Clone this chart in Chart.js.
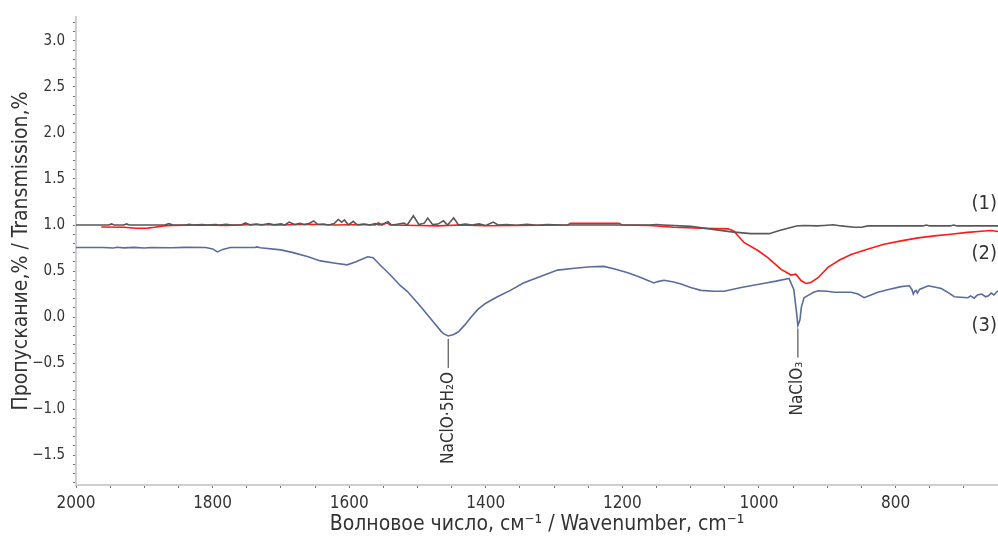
<!DOCTYPE html>
<html>
<head>
<meta charset="utf-8">
<script src="https://cdn.jsdelivr.net/npm/chart.js@4"></script>
<style>
    body { margin: 0; background: #fff; }
    #wrap { width: 998px; height: 538px; }
</style>
</head>
<body>
<div id="wrap"><canvas id="irChart"></canvas></div>
<script>
// --- Spectrum data ---
// (1) grey
const wn1 = [2000, 1960, 1952, 1948, 1944, 1930, 1926, 1922, 1870, 1864, 1858, 1840, 1834, 1828, 1815, 1808, 1796, 1790, 1780, 1772,
    1758, 1752, 1745, 1736, 1728, 1718, 1710, 1700, 1694, 1688, 1680, 1672, 1666, 1658, 1652, 1646, 1638, 1630, 1622, 1616,
    1611, 1607, 1601, 1594, 1588, 1578, 1570, 1562, 1556, 1548, 1543, 1538, 1530, 1520, 1515, 1506, 1498, 1490, 1485, 1478,
    1470, 1462, 1456, 1447, 1440, 1430, 1420, 1410, 1400, 1389, 1382, 1370, 1355, 1340, 1325, 1310, 1290, 1200, 1160, 1150,
    1140, 1100, 1070, 1040, 1012, 985, 970, 955, 945, 935, 915, 905, 891, 880, 860, 850, 840, 760, 755, 750,
    720, 715, 710, 650];
const t1 = [1.0, 1.0, 1.0, 1.012, 1.0, 1.0, 1.012, 1.0, 1.0, 1.015, 1.0, 1.0, 1.008, 1.0, 1.005, 1.0, 1.006, 1.0, 1.008, 1.0,
    1.0, 1.022, 1.0, 1.01, 1.0, 1.015, 1.002, 1.012, 1.0, 1.032, 1.005, 1.018, 1.003, 1.02, 1.045, 1.005, 1.01, 1.0, 1.015, 1.06,
    1.03, 1.055, 1.0, 1.04, 1.0, 1.01, 1.0, 1.015, 1.0, 1.02, 1.035, 1.0, 1.008, 1.02, 1.0, 1.1, 1.005, 1.02, 1.075, 1.005,
    1.01, 1.045, 1.0, 1.078, 1.0, 1.01, 1.0, 1.012, 0.995, 1.032, 1.0, 1.005, 0.998, 1.008, 0.998, 1.005, 1.0, 1.0, 1.0, 1.005,
    1.0, 0.985, 0.955, 0.925, 0.906, 0.906, 0.94, 0.97, 0.99, 0.995, 0.99, 0.995, 1.002, 0.99, 0.975, 0.975, 0.99, 0.99, 1.0, 0.99,
    0.99, 1.0, 0.99, 0.99];

// (2) red
const wn2 = [1963, 1930, 1912, 1895, 1885, 1872, 1860, 1840, 1820, 1780, 1740, 1700, 1660, 1620, 1580, 1562, 1557, 1552, 1545, 1540,
    1500, 1470, 1440, 1400, 1360, 1320, 1280, 1276, 1205, 1200, 1160, 1125, 1085, 1045, 1037, 1022, 1001, 987, 968, 953,
    946, 938, 931, 924, 913, 899, 882, 865, 840, 817, 790, 767, 740, 719, 695, 670, 660, 650];
const t2 = [0.978, 0.975, 0.965, 0.966, 0.975, 0.99, 0.995, 0.998, 1.0, 0.995, 1.005, 1.0, 1.008, 1.0, 1.005, 1.0, 1.022, 1.0, 1.025, 1.0,
    0.995, 0.99, 1.0, 0.992, 0.995, 0.998, 1.0, 1.018, 1.018, 1.0, 0.995, 0.975, 0.965, 0.958, 0.935, 0.81, 0.72, 0.646, 0.52, 0.456,
    0.465, 0.394, 0.365, 0.376, 0.43, 0.54, 0.62, 0.68, 0.74, 0.79, 0.83, 0.86, 0.885, 0.90, 0.92, 0.935, 0.94, 0.93];

// (3) blue
const wn3 = [2000, 1960, 1945, 1940, 1930, 1915, 1900, 1890, 1860, 1840, 1810, 1800, 1793, 1785, 1774, 1738, 1735, 1730, 1700, 1682,
    1660, 1642, 1620, 1603, 1590, 1573, 1565, 1554, 1540, 1525, 1515, 1496, 1477, 1466, 1462, 1455, 1447, 1440, 1430, 1422,
    1412, 1400, 1383, 1364, 1345, 1320, 1295, 1270, 1246, 1227, 1210, 1192, 1173, 1160, 1154, 1148, 1139, 1125, 1114, 1100,
    1085, 1065, 1051, 1026, 1012, 990, 975, 956, 949, 945, 943, 940, 938, 934, 928, 920, 913, 900, 890, 865,
    855, 846, 836, 826, 810, 792, 780, 776, 774, 772, 770, 768, 765, 752, 745, 733, 724, 714, 705, 694,
    690, 685, 680, 674, 668, 664, 660, 656, 650];
const t3 = [0.755, 0.755, 0.75, 0.758, 0.752, 0.757, 0.75, 0.755, 0.752, 0.757, 0.755, 0.74, 0.708, 0.735, 0.755, 0.755, 0.762, 0.752, 0.73, 0.70,
    0.655, 0.61, 0.585, 0.567, 0.60, 0.655, 0.645, 0.56, 0.46, 0.34, 0.28, 0.12, -0.05, -0.15, -0.18, -0.205, -0.19, -0.16, -0.08, -0.005,
    0.08, 0.15, 0.22, 0.29, 0.37, 0.44, 0.51, 0.53, 0.546, 0.55, 0.52, 0.48, 0.43, 0.39, 0.37, 0.385, 0.40, 0.38, 0.36, 0.32,
    0.29, 0.28, 0.28, 0.32, 0.34, 0.37, 0.39, 0.42, 0.30, 0.05, -0.093, -0.03, 0.105, 0.21, 0.235, 0.27, 0.286, 0.28, 0.27, 0.27,
    0.25, 0.21, 0.24, 0.27, 0.30, 0.33, 0.34, 0.30, 0.25, 0.28, 0.29, 0.26, 0.30, 0.34, 0.33, 0.31, 0.27, 0.22, 0.215, 0.21,
    0.23, 0.205, 0.24, 0.25, 0.22, 0.23, 0.26, 0.24, 0.286];

// Peak annotations
const peakWn = [1455, 943];
const peakT = [-0.205, -0.093];
const peakText = ['NaClO\u00b75H\u2082O', 'NaClO\u2083'];

// Curve numbers at the right edge
const curveLabels = ['(1)', '(2)', '(3)'];
const curveLabelT = [1.23, 0.69, -0.09];

// Axis ticks
const xTickValues = [];
for (let v = 650; v <= 2000; v += 50) xTickValues.push(v);
const yTickValues = [];
for (let i = -18; i <= 32; i++) yTickValues.push(i / 10);

const toPoints = (xs, ys) => xs.map((x, i) => ({ x: x, y: ys[i] }));

const textColor = '#333';
const mainFont = "'DejaVu Sans Condensed', 'DejaVu Sans', sans-serif";

// --- Annotations drawn through the scales ---
const labelPlugin = {
    id: 'irLabels',
    afterDatasetsDraw(chart) {
        const { ctx, scales: { x, y }, chartArea } = chart;
        // peak markers
        peakWn.forEach((w, i) => {
            const px = x.getPixelForValue(w);
            const py = y.getPixelForValue(peakT[i]) + 3;
            ctx.save();
            ctx.strokeStyle = '#333';
            ctx.lineWidth = 1;
            ctx.beginPath();
            ctx.moveTo(px, py);
            ctx.lineTo(px, py + 29);
            ctx.stroke();
            ctx.translate(px, py + 33);
            ctx.rotate(-Math.PI / 2);
            ctx.fillStyle = textColor;
            ctx.font = '17px ' + mainFont;
            ctx.textAlign = 'right';
            ctx.textBaseline = 'middle';
            ctx.fillText(peakText[i], 0, 0);
            ctx.restore();
        });
        // curve numbers
        ctx.save();
        ctx.font = '20px ' + mainFont;
        ctx.fillStyle = textColor;
        ctx.textAlign = 'right';
        ctx.textBaseline = 'middle';
        curveLabels.forEach((lbl, i) => {
            ctx.fillText(lbl, chartArea.right - 1, y.getPixelForValue(curveLabelT[i]));
        });
        ctx.restore();
    }
};

const ctx = document.getElementById('irChart').getContext('2d');
const irChart = new Chart(ctx, {
    type: 'line',
    data: {
        datasets: [
            { label: '(1)', data: toPoints(wn1, t1), borderColor: '#585858', borderWidth: 1.6 },
            { label: '(2)', data: toPoints(wn2, t2), borderColor: '#ff1a1a', borderWidth: 1.6 },
            { label: '(3)', data: toPoints(wn3, t3), borderColor: '#5b6c9c', borderWidth: 1.6 }
        ]
    },
    options: {
        responsive: true,
        maintainAspectRatio: false,
        animation: false,
        elements: { point: { radius: 0 }, line: { tension: 0 } },
        layout: { padding: { top: 15, right: 0, left: 0, bottom: 0 } },
        plugins: { legend: { display: false }, tooltip: { enabled: false } },
        scales: {
            x: {
                type: 'linear',
                reverse: true,
                min: 650,
                max: 2000,
                afterBuildTicks: (scale) => { scale.ticks = xTickValues.map(v => ({ value: v })); },
                afterFit: (scale) => { scale.height = 53; },
                border: { color: '#cfcfcf', width: 2 },
                grid: { drawOnChartArea: false, tickLength: 3, color: '#777', tickWidth: 1 },
                ticks: {
                    autoSkip: false,
                    maxRotation: 0,
                    padding: 5,
                    color: textColor,
                    font: { family: mainFont, size: 17 },
                    callback: (v) => (v % 200 === 0 ? String(v) : '')
                },
                title: {
                    display: true,
                    text: 'Волновое число, см\u207b\u00b9 / Wavenumber, cm\u207b\u00b9',
                    color: textColor,
                    font: { family: mainFont, size: 21 },
                    padding: { top: 0, bottom: 1 }
                }
            },
            y: {
                type: 'linear',
                min: -1.825,
                max: 3.26,
                afterBuildTicks: (scale) => { scale.ticks = yTickValues.map(v => ({ value: v })); },
                afterFit: (scale) => { scale.width = 76; },
                border: { color: '#cfcfcf', width: 2 },
                grid: { drawOnChartArea: false, tickLength: 3, color: '#777', tickWidth: 1 },
                ticks: {
                    autoSkip: false,
                    padding: 8,
                    color: textColor,
                    font: { family: mainFont, size: 15 },
                    callback: (v) => {
                        const r = Math.round(v * 10);
                        if (r % 5 !== 0) return '';
                        return (r < 0 ? '\u2212' : '') + Math.abs(r / 10).toFixed(1);
                    }
                },
                title: {
                    display: true,
                    text: 'Пропускание,% / Transmission,%',
                    color: textColor,
                    font: { family: mainFont, size: 21 },
                    padding: { top: 9, bottom: 0 }
                }
            }
        }
    },
    plugins: [labelPlugin]
});
</script>
</body>
</html>
